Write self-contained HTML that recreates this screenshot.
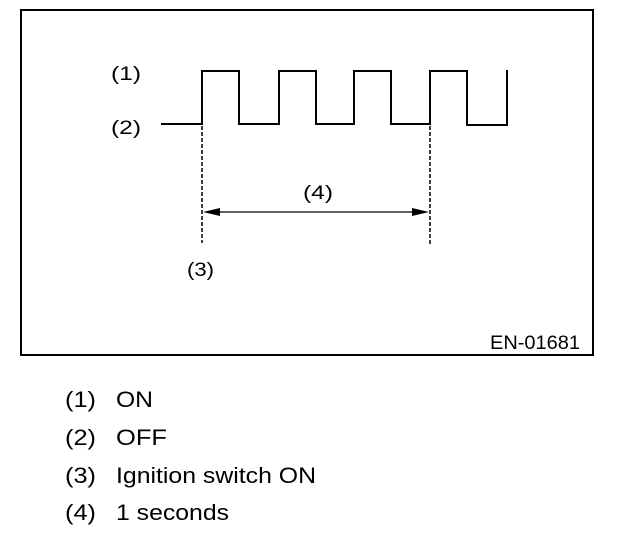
<!DOCTYPE html>
<html><head><style>
body{margin:0;background:#fff;width:624px;height:542px;overflow:hidden}
</style></head><body>
<svg width="624" height="542" xmlns="http://www.w3.org/2000/svg" font-family="Liberation Sans, sans-serif">
<rect x="21" y="10" width="572" height="345" fill="none" stroke="#000" stroke-width="2"/>
<polyline points="161,124 202,124 202,71 239,71 239,124 279,124 279,71 316,71 316,124 354,124 354,71 391,71 391,124 430,124 430,71 467,71 467,125 507,125 507,70" fill="none" stroke="#000" stroke-width="2"/>
<line x1="202" y1="126" x2="202" y2="243" stroke="#000" stroke-width="1.5" stroke-dasharray="4,2"/>
<line x1="430" y1="126" x2="430" y2="245" stroke="#000" stroke-width="1.5" stroke-dasharray="4,2"/>
<line x1="210" y1="212" x2="422" y2="212" stroke="#000" stroke-width="1.2"/>
<polygon points="203,212 220,208 220,216" fill="#000"/>
<polygon points="429,212 412,208 412,216" fill="#000"/>
<g font-size="19">
<text x="111" y="80" textLength="30" lengthAdjust="spacingAndGlyphs">(1)</text>
<text x="111" y="134" textLength="30" lengthAdjust="spacingAndGlyphs">(2)</text>
<text x="303" y="199" textLength="30" lengthAdjust="spacingAndGlyphs">(4)</text>
<text x="187" y="276" textLength="27" lengthAdjust="spacingAndGlyphs">(3)</text>
<text x="490" y="349" textLength="90" lengthAdjust="spacingAndGlyphs">EN-01681</text>
</g>
<g font-size="22">
<text x="65" y="407" textLength="31" lengthAdjust="spacingAndGlyphs">(1)</text><text x="116" y="407" textLength="37" lengthAdjust="spacingAndGlyphs">ON</text>
<text x="65" y="445" textLength="31" lengthAdjust="spacingAndGlyphs">(2)</text><text x="116" y="445" textLength="51" lengthAdjust="spacingAndGlyphs">OFF</text>
<text x="65" y="483" textLength="31" lengthAdjust="spacingAndGlyphs">(3)</text><text x="116" y="483" textLength="200" lengthAdjust="spacingAndGlyphs">Ignition switch ON</text>
<text x="65" y="520" textLength="31" lengthAdjust="spacingAndGlyphs">(4)</text><text x="116" y="520" textLength="113" lengthAdjust="spacingAndGlyphs">1 seconds</text>
</g>
</svg>
</body></html>
